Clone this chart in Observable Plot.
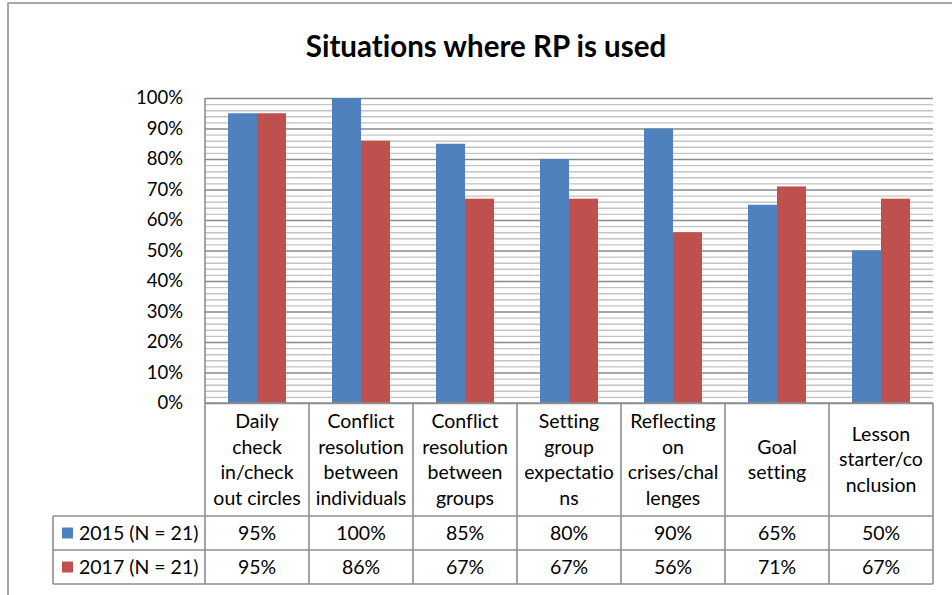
<!DOCTYPE html>
<html>
<head>
<meta charset="utf-8">
<script src="https://cdn.jsdelivr.net/npm/d3@7"></script>
<script src="https://cdn.jsdelivr.net/npm/@observablehq/plot@0.6"></script>
<style>
  html, body { margin: 0; padding: 0; background: #fff; }
  #chart { width: 952px; height: 595px; overflow: hidden; }
  #chart text { font-variant-ligatures: none; }
</style>
</head>
<body>
<div id="chart"></div>
<script>
const chartTitle = "Situations where RP is used";
const categories = [
  "Daily check in/check out circles",
  "Conflict resolution between individuals",
  "Conflict resolution between groups",
  "Setting group expectations",
  "Reflecting on crises/challenges",
  "Goal setting",
  "Lesson starter/conclusion"
];
const categoryLines = [
  ["Daily", "check", "in/check", "out circles"],
  ["Conflict", "resolution", "between", "individuals"],
  ["Conflict", "resolution", "between", "groups"],
  ["Setting", "group", "expectatio", "ns"],
  ["Reflecting", "on", "crises/chal", "lenges"],
  ["Goal", "setting"],
  ["Lesson", "starter/co", "nclusion"]
];
const seriesNames = ["2015 (N = 21)", "2017 (N = 21)"];
const values2015 = [0.95, 1.00, 0.85, 0.80, 0.90, 0.65, 0.50];
const values2017 = [0.95, 0.86, 0.67, 0.67, 0.56, 0.71, 0.67];
const seriesColors = ["#4F81BD", "#C0504D"];
const yMajorTicks = [0, 0.1, 0.2, 0.3, 0.4, 0.5, 0.6, 0.7, 0.8, 0.9, 1.0];
const yMinorTicks = [0.02,0.04,0.06,0.08,0.12,0.14,0.16,0.18,0.22,0.24,0.26,0.28,0.32,0.34,0.36,0.38,0.42,0.44,0.46,0.48,0.52,0.54,0.56,0.58,0.62,0.64,0.66,0.68,0.72,0.74,0.76,0.78,0.82,0.84,0.86,0.88,0.92,0.94,0.96,0.98];

const seriesValues = [values2015, values2017];
const rows = categories.flatMap((c, i) =>
  seriesNames.map((s, j) => ({category: c, series: s, value: seriesValues[j][i]}))
);

const FONT = "Lato, 'Open Sans', sans-serif";
const FS = "19.5px";
const pct = d3.format(".0%");

const chart = Plot.plot({
  width: 952,
  height: 595,
  marginTop: 98,
  marginBottom: 192,
  marginLeft: 203,
  marginRight: 17,
  style: {fontFamily: FONT, fontSize: FS, color: "#000", background: "#fff"},
  fx: {domain: categories, padding: 0, axis: null},
  x: {domain: seriesNames, paddingInner: 0, paddingOuter: 0.74, axis: null},
  y: {domain: [0, 1], axis: null},
  color: {domain: seriesNames, range: seriesColors},
  marks: [
    Plot.ruleY(yMinorTicks, {stroke: "#c4c4c4", strokeWidth: 1.4}),
    Plot.ruleY(yMajorTicks, {stroke: "#8a8a8a", strokeWidth: 1.4}),
    Plot.barY(rows, {fx: "category", x: "series", y: "value", fill: "series"})
  ]
});

document.getElementById("chart").appendChild(chart);

// Post-render decorations using Plot's own scales
const svg = d3.select(chart);
const fx = chart.scale("fx");
const y = chart.scale("y");
const bw = fx.bandwidth;
const left = fx.apply(categories[0]);
const right = fx.apply(categories[categories.length - 1]) + bw;
const yTop = y.apply(1);
const yBase = y.apply(0);
const headerBottom = yBase + 113;
const row1Bottom = headerBottom + 34;
const row2Bottom = row1Bottom + 34;
const legendLeft = 53;
const lineColor = "#8e8e8e";

const g = svg.append("g").attr("text-anchor", "start").attr("font-family", FONT).attr("font-size", FS);

// outer chart frame
g.append("rect").attr("x", 8).attr("y", 3).attr("width", 1000).attr("height", 700)
  .attr("fill", "none").attr("stroke", "#8a8a8a").attr("stroke-width", 1.5);

// title
g.append("text").attr("x", 486).attr("y", 57).attr("text-anchor", "middle")
  .attr("font-weight", "bold").attr("font-size", "29.5px")
  .text(chartTitle);

// y tick labels
g.selectAll(".ytick").data(yMajorTicks).join("text")
  .attr("x", 183).attr("y", d => y.apply(d)).attr("dy", "0.35em")
  .attr("text-anchor", "end").attr("font-size", "18.5px")
  .text(d => pct(d));

// table lines
const lines = [];
lines.push([left, yTop, left, row2Bottom]);
lines.push([left, yBase, right, yBase]);
[headerBottom, row1Bottom, row2Bottom].forEach(yy => lines.push([legendLeft, yy, right, yy]));
lines.push([legendLeft, headerBottom, legendLeft, row2Bottom]);
categories.forEach(c => {
  const xr = fx.apply(c) + bw;
  lines.push([xr, yBase, xr, row2Bottom]);
});
g.selectAll(".tl").data(lines).join("line")
  .attr("x1", d => d[0]).attr("y1", d => d[1]).attr("x2", d => d[2]).attr("y2", d => d[3])
  .attr("stroke", lineColor).attr("stroke-width", 1.6);

// header labels
const lineH = 25.5;
const headerMid = (yBase + headerBottom) / 2;
categories.forEach((c, i) => {
  const ls = categoryLines[i];
  const t = g.append("text").attr("text-anchor", "middle");
  ls.forEach((l, k) => {
    t.append("tspan").attr("x", fx.apply(c) + bw / 2)
      .attr("y", headerMid + (k - (ls.length - 1) / 2) * lineH).attr("dy", "0.35em").text(l);
  });
});

// value rows + legend
const rowMids = [(headerBottom + row1Bottom) / 2, (row1Bottom + row2Bottom) / 2];
seriesNames.forEach((s, j) => {
  g.append("rect").attr("x", 62).attr("y", rowMids[j] - 5.5).attr("width", 11).attr("height", 11)
    .attr("fill", chart.scale("color").apply(s));
  g.append("text").attr("x", 79).attr("y", rowMids[j]).attr("dy", "0.35em")
    .attr("text-anchor", "start").text(s);
  categories.forEach((c, i) => {
    g.append("text").attr("x", fx.apply(c) + bw / 2).attr("y", rowMids[j]).attr("dy", "0.35em")
      .attr("text-anchor", "middle")
      .text(pct(seriesValues[j][i]));
  });
});
</script>
</body>
</html>
